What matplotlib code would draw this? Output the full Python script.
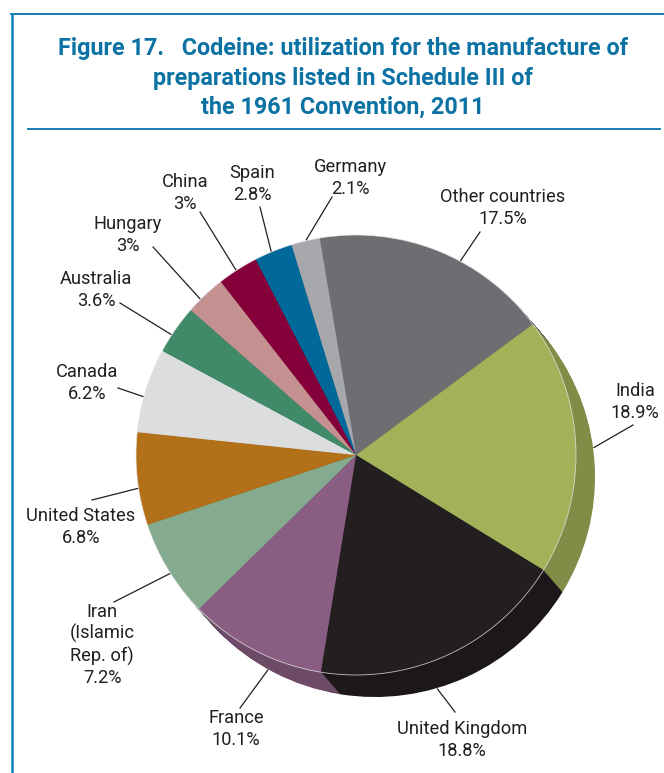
import numpy as np
import matplotlib
matplotlib.use("Agg")
import matplotlib.pyplot as plt
from matplotlib.patches import Circle
from matplotlib.colors import to_rgb

countries = ["Other countries", "India", "United Kingdom", "France",
             "Iran\n(Islamic\nRep. of)", "United States", "Canada", "Australia",
             "Hungary", "China", "Spain", "Germany"]
shares = [17.5, 18.9, 18.8, 10.1, 7.2, 6.8, 6.2, 3.6, 3.0, 3.0, 2.8, 2.1]
share_labels = ["17.5%", "18.9%", "18.8%", "10.1%", "7.2%", "6.8%", "6.2%",
                "3.6%", "3%", "3%", "2.8%", "2.1%"]
colors = ["#6d6e71", "#a1b259", "#231f20", "#8a5e83", "#84ab8f", "#b27018",
          "#dcdddf", "#418a69", "#c49090", "#85003a", "#00699a", "#a6a8ab"]

# layout (pixel coords, y from top)
W, H = 664, 773
cx, cy, R = 356, H - 455, 220
depth = (19, -22)
start = 99.5
label_xy = [(503, 208), (635, 402), (462, 740), (236, 729), (102, 645),
            (81, 527), (87, 383), (96, 290), (128, 235), (185, 193),
            (252, 184), (350, 178)]
leader_end = [(480, 232), (633, 425), (455, 712), (240, 708), (114, 602),
              (92, 500), (118, 388), (120, 303), (153, 247), (200, 212),
              (260, 207), (332, 197)]
anchor_frac = [0.6, 0.51, 0.58, 0.36, 0.46, 0.40, 0.42, 0.37, 0.35, 0.46, 0.45, 0.54]

FONT = ["Roboto", "Liberation Sans", "DejaVu Sans"]
TEAL = "#1a7cae"

fig = plt.figure(figsize=(W / 100, H / 100), dpi=100)
ax = fig.add_axes([0, 0, 1, 1])
renderer = fig.canvas.get_renderer()


def fit_size(text, target_px, weight="normal"):
    # pick a font size so the text spans about target_px
    t = ax.text(0, 0, text, fontsize=10, fontweight=weight, family=FONT)
    w = t.get_window_extent(renderer).width
    t.remove()
    return 10 * target_px / w


# extruded side of the pie
dark = [tuple(c * 0.79 for c in to_rgb(col)) for col in colors]
n = 30
for k in range(n, 0, -1):
    ox, oy = depth[0] * k / n, depth[1] * k / n
    ax.pie(shares, colors=dark, startangle=start, counterclock=False,
           center=(cx + ox, cy + oy), radius=R, wedgeprops=dict(linewidth=0))

wedges, _ = ax.pie(shares, colors=colors, startangle=start, counterclock=False,
                   center=(cx, cy), radius=R, wedgeprops=dict(linewidth=0))
ax.add_patch(Circle((cx, cy), R, fill=False, ec="#e8e8e8", lw=0.6, alpha=0.8))

# labels and leader lines
label_size = fit_size("United Kingdom", 130)
o = np.array(depth, dtype=float)
for i, w in enumerate(wedges):
    th1, th2 = w.theta1, w.theta2
    th = np.deg2rad(th2 - anchor_frac[i] * (th2 - th1))
    u = np.array([np.cos(th), np.sin(th)])
    ud = u @ o
    t = ud + np.sqrt(ud ** 2 - o @ o + R ** 2)
    t = max(t, R) + 1
    ex, ey = leader_end[i]
    ax.plot([cx + t * u[0], ex], [cy + t * u[1], H - ey], color="#231f20", lw=0.9)
    lx, ly = label_xy[i]
    ax.text(lx, H - ly, countries[i] + "\n" + share_labels[i], ha="center",
            va="center", fontsize=label_size, linespacing=1.22, color="#231f20",
            family=FONT)

# title and frame
title_lines = ["Figure 17.   Codeine: utilization for the manufacture of",
               "preparations listed in Schedule III of",
               "the 1961 Convention, 2011"]
title_size = fit_size(title_lines[0], 572, "bold")
for line, y in zip(title_lines, [48, 78, 107]):
    ax.text(343, H - y, line, ha="center", va="center", fontsize=title_size,
            fontweight="bold", color="#0b72a3", family=FONT)
ax.plot([11, W], [H - 14, H - 14], color=TEAL, lw=1.4)
ax.plot([12, 12], [H - 14, 0], color="#0a80c0", lw=1.8)
ax.plot([28, 660], [H - 129, H - 129], color=TEAL, lw=1.4)

ax.set_xlim(0, W)
ax.set_ylim(0, H)
ax.set_aspect("auto")
ax.axis("off")
fig.savefig("out.png", dpi=100)
